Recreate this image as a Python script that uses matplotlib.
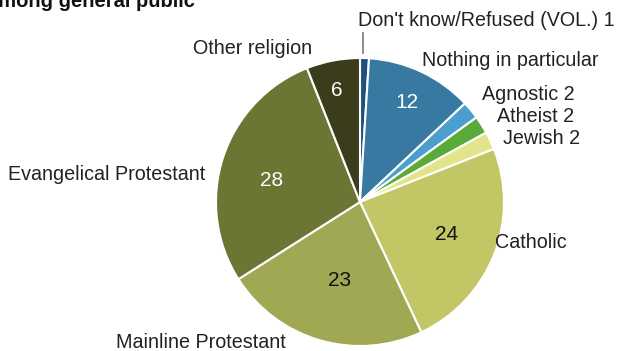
import matplotlib as mpl
mpl.use('Agg')
import matplotlib.pyplot as plt

plt.rcParams['font.family'] = ['Liberation Sans', 'DejaVu Sans']

# data (clockwise from top)
categories = ["Don't know/Refused (VOL.)", "Nothing in particular", "Agnostic", "Atheist",
              "Jewish", "Catholic", "Mainline Protestant", "Evangelical Protestant", "Other religion"]
values = [1, 12, 2, 2, 2, 24, 23, 28, 6]
colors = ['#1f4f7a', '#3779a0', '#4a9fcf', '#5aaa3a', '#e3e48a',
          '#c2c665', '#a1a854', '#6b7534', '#3b3c1c']

W, H = 619, 351
cx, cy, R = 360, 202, 144   # pie centre / radius in pixels

def px(x, y):
    return ((x - cx) / R, (cy - y) / R)

fig = plt.figure(figsize=(W / 100, H / 100), dpi=100)
ax = fig.add_axes([0, 0, 1, 1])

wedges, _ = ax.pie(values, colors=colors, startangle=90, counterclock=False,
                   radius=1, wedgeprops=dict(edgecolor='white', linewidth=1.5))

ax.set_xlim(-cx / R, (W - cx) / R)
ax.set_ylim(-(H - cy) / R, cy / R)
ax.set_aspect('auto')
ax.axis('off')

# category labels (text, pixel position, alignment)
lab_fs = 14.2
labels = [
    ("Don't know/Refused (VOL.) 1", (486, 20), 'center'),
    ("Nothing in particular", (510, 60), 'center'),
    ("Agnostic 2", (482, 94), 'left'),
    ("Atheist 2", (497, 116), 'left'),
    ("Jewish 2", (503, 138), 'left'),
    ("Catholic", (531, 243), 'center'),
    ("Mainline Protestant", (201, 342), 'center'),
    ("Evangelical Protestant", (107, 174), 'center'),
    ("Other religion", (253, 48), 'center'),
]
for txt, (x, y), ha in labels:
    ax.text(*px(x, y), txt, ha=ha, va='center', fontsize=lab_fs, color='#222222')

# leader line for the 1% slice
ax.plot(*zip(px(363, 33), px(363, 53)), color='#777777', lw=1.2)

# values inside slices
num_pos = {1: (407, 102), 5: (447, 234), 6: (340, 281), 7: (272, 180), 8: (337, 91)}
num_col = {1: 'white', 5: '#111111', 6: '#111111', 7: 'white', 8: 'white'}
for i, (x, y) in num_pos.items():
    ax.text(*px(x, y), str(values[i]), ha='center', va='center',
            fontsize=15, color=num_col[i])

# cut-off heading
ax.text(*px(195, 7), "among general public", ha='right', va='baseline',
        fontsize=14.5, fontweight='bold', color='#111111')

fig.savefig('out.png', dpi=100)
